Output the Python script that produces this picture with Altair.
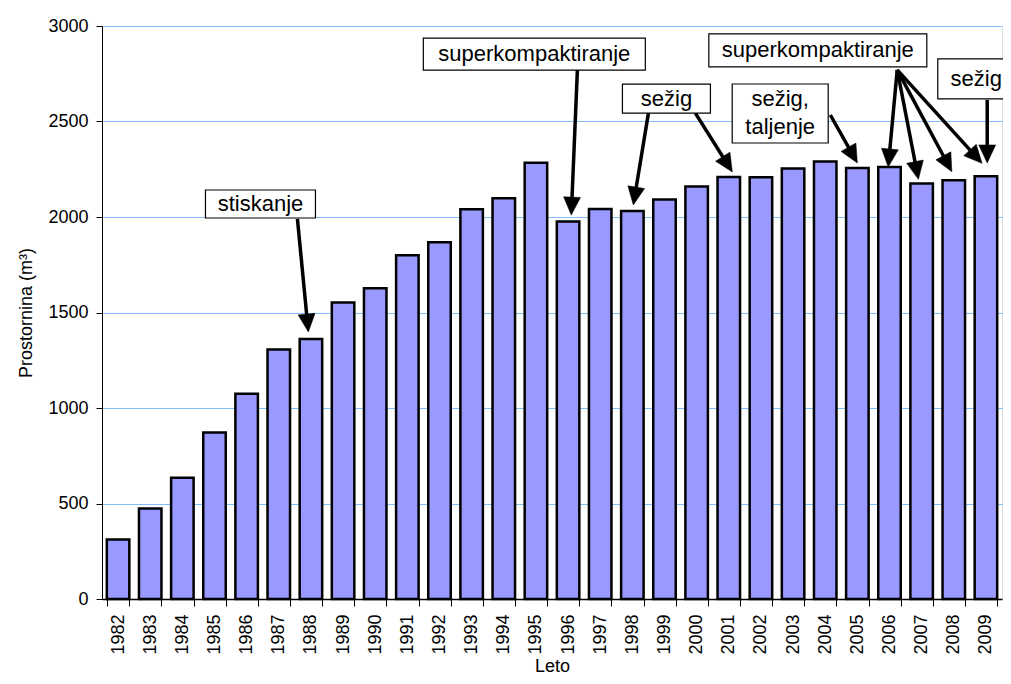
import math
import altair as alt
import pandas as pd

# ---- data ----
years = ["1982", "1983", "1984", "1985", "1986", "1987", "1988", "1989", "1990",
         "1991", "1992", "1993", "1994", "1995", "1996", "1997", "1998", "1999",
         "2000", "2001", "2002", "2003", "2004", "2005", "2006", "2007", "2008", "2009"]
volumes = [312, 474, 635, 872, 1075, 1306, 1361, 1553, 1627, 1800, 1868, 2040, 2098,
           2284, 1976, 2042, 2032, 2092, 2160, 2210, 2208, 2254, 2290, 2257, 2262,
           2176, 2193, 2213]
y_ticks = [0, 500, 1000, 1500, 2000, 2500, 3000]

# annotation boxes (centre in year / value units)
ann_labels = ["stiskanje", "superkompaktiranje", "sežig", "sežig,\ntaljenje",
              "superkompaktiranje", "sežig"]
ann_x = [1986.43, 1994.95, 1999.06, 2002.6, 2003.77, 2008.7]
ann_y = [2068, 2853, 2620, 2542, 2872, 2723]
ann_w_px = [110, 222, 88, 96, 218, 77]
ann_h_px = [28, 32, 29, 59, 33, 40]

# arrows: start (year, value) -> tip (year, value)
arr_sx = [1987.58, 1996.29, 1998.50, 1999.96, 2004.16, 2006.24, 2006.24, 2006.24, 2006.24, 2009.04]
arr_sy = [1990, 2770, 2544, 2544, 2534, 2770, 2770, 2770, 2770, 2613]
arr_tx = [1987.92, 1996.10, 1998.03, 2001.11, 2005.00, 2005.96, 2006.90, 2007.94, 2008.88, 2009.04]
arr_ty = [1398, 2010, 2063, 2236, 2283, 2262, 2197, 2237, 2281, 2283]

# ---- layout ----
W, H = 900, 573
X0, X1 = 1981.5, 2009.5
Y0, Y1 = 0, 3000
PX_X = W / (X1 - X0)
PX_Y = H / (Y1 - Y0)
HEAD = 18
LINE_H = 28
FONT = "Liberation Sans"

bars_df = pd.DataFrame({"year": years, "v": volumes})

box_rows, text_rows = [], []
for t, cx, cy, w, h in zip(ann_labels, ann_x, ann_y, ann_w_px, ann_h_px):
    box_rows.append({
        "x1": cx - w / 2 / PX_X, "x2": cx + w / 2 / PX_X,
        "y1": cy - h / 2 / PX_Y, "y2": cy + h / 2 / PX_Y,
    })
    parts = t.split("\n")
    n = len(parts)
    for i, p in enumerate(parts):
        off_px = (i - (n - 1) / 2) * LINE_H
        text_rows.append({"t": p, "cx": cx, "cy": cy - off_px / PX_Y})
box_df = pd.DataFrame(box_rows)
text_df = pd.DataFrame(text_rows)

arr_rows = []
for sx, sy, tx, ty in zip(arr_sx, arr_sy, arr_tx, arr_ty):
    dxp = (tx - sx) * PX_X
    dyp = -(ty - sy) * PX_Y
    L = math.hypot(dxp, dyp)
    ux, uy = dxp / L, dyp / L
    ex = tx - ux * HEAD * 0.8 / PX_X
    ey = ty + uy * HEAD * 0.8 / PX_Y
    ang = math.degrees(math.atan2(-ux, uy)) % 360
    arr_rows.append({"sx": sx, "sy": sy, "ex": ex, "ey": ey, "tx": tx, "ty": ty, "ang": ang})
arr_df = pd.DataFrame(arr_rows)

xq = alt.Scale(domain=[X0, X1], nice=False, zero=False)
yq = alt.Scale(domain=[Y0, Y1], nice=False, zero=False)

bars = alt.Chart(bars_df).mark_bar(
    fill="#9999FF", stroke="black", strokeWidth=2.5
).encode(
    x=alt.X("year:N", sort=years,
            scale=alt.Scale(paddingInner=0.3, paddingOuter=0.15),
            axis=alt.Axis(title="Leto", labelAngle=270, labelAlign="right",
                          labelBaseline="middle", labelFontSize=18, labelColor="black",
                          labelFont=FONT, tickBand="extent", tickSize=7,
                          tickColor="black", domainColor="black", domainWidth=1.5,
                          labelPadding=8, titleFontSize=18, titleFont=FONT,
                          titleFontWeight="normal", titleColor="black",
                          titleX=450, titleY=72, titleBaseline="alphabetic",
                          titleAlign="center", grid=False)),
    y=alt.Y("v:Q", scale=alt.Scale(domain=[Y0, Y1], nice=False),
            axis=alt.Axis(title="Prostornina (m³)", values=y_ticks, format="d",
                          grid=True, gridColor="#80BDFA", gridWidth=1, tickSize=6,
                          tickColor="black", domainColor="black", labelPadding=8,
                          labelFontSize=18, labelColor="black", labelFont=FONT,
                          titleFontSize=18, titleFont=FONT, titleFontWeight="normal",
                          titleColor="black", titleAngle=270, titleX=-76,
                          titleY=H / 2, titleAlign="center", titleBaseline="middle")),
)

lines = alt.Chart(arr_df).mark_rule(color="black", strokeWidth=3.5).encode(
    x=alt.X("sx:Q", scale=xq, axis=None),
    x2="ex:Q",
    y=alt.Y("sy:Q", scale=yq, axis=None),
    y2="ey:Q",
)

heads = alt.Chart(arr_df).mark_point(
    shape="M0,0L-0.47,-1L0.47,-1Z", filled=True, fill="black", stroke="black",
    strokeWidth=0.5, opacity=1, size=(HEAD * 2) ** 2
).encode(
    x=alt.X("tx:Q", scale=xq, axis=None),
    y=alt.Y("ty:Q", scale=yq, axis=None),
    angle=alt.Angle("ang:Q", scale=None),
)

boxes = alt.Chart(box_df).mark_rect(fill="white", stroke="black", strokeWidth=1.2).encode(
    x=alt.X("x1:Q", scale=xq, axis=None),
    x2="x2:Q",
    y=alt.Y("y1:Q", scale=yq, axis=None),
    y2="y2:Q",
)

texts = alt.Chart(text_df).mark_text(
    font=FONT, fontSize=22, align="center", baseline="middle", color="black"
).encode(
    x=alt.X("cx:Q", scale=xq, axis=None),
    y=alt.Y("cy:Q", scale=yq, axis=None),
    text="t:N",
)

overlay = alt.layer(lines, heads, boxes, texts)

chart = alt.layer(bars, overlay).resolve_scale(
    x="independent", y="independent"
).properties(
    width=W, height=H,
    padding={"left": 94, "top": 18, "right": 1, "bottom": 77},
    autosize=alt.AutoSizeParams(type="none"),
).configure_view(
    stroke="#555555", strokeWidth=1
).configure(font=FONT, background="white")

chart.save("out.html", embed_options={"renderer": "svg", "actions": False})
